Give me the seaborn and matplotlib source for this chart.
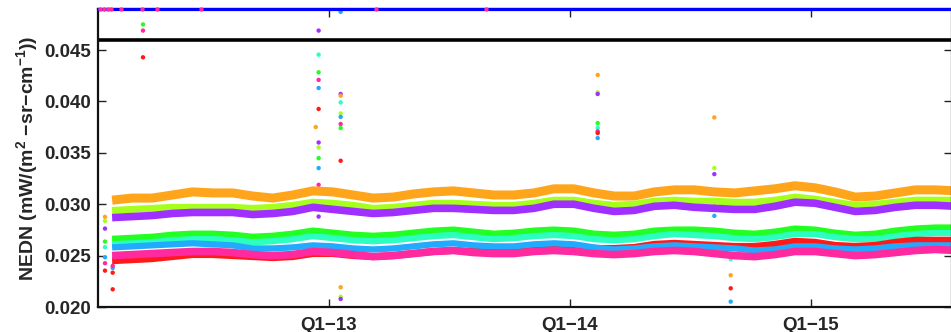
import numpy as np
import pandas as pd
import matplotlib
matplotlib.use("Agg")
import matplotlib.pyplot as plt
import seaborn as sns

# ---------------- data ----------------
# monthly sample dates (decimal year)
dates = [2012.1 + k / 12 for k in range(43)]

orange = [0.0304, 0.0306, 0.0306, 0.0309, 0.0312, 0.0311, 0.0311, 0.0308, 0.0306, 0.0309,
          0.0313, 0.0312, 0.0309, 0.0306, 0.0307, 0.0310, 0.0312, 0.0313, 0.0311, 0.0309,
          0.0309, 0.0311, 0.0315, 0.0315, 0.0311, 0.0308, 0.0308, 0.0312, 0.0314, 0.0314,
          0.0312, 0.0311, 0.0313, 0.0315, 0.0318, 0.0316, 0.0312, 0.0307, 0.0308, 0.0311,
          0.0314, 0.0314, 0.0313]
chartreuse = [0.0294, 0.0295, 0.0296, 0.0297, 0.0297, 0.0297, 0.0297, 0.0296, 0.0297, 0.0299,
              0.0302, 0.0301, 0.0299, 0.0296, 0.0297, 0.0299, 0.0301, 0.0301, 0.0300, 0.0299,
              0.0299, 0.0301, 0.0304, 0.0304, 0.0301, 0.0299, 0.0300, 0.0303, 0.0304, 0.0303,
              0.0303, 0.0302, 0.0302, 0.0304, 0.0307, 0.0305, 0.0302, 0.0299, 0.0300, 0.0302,
              0.0304, 0.0304, 0.0304]
purple = [0.0287, 0.0288, 0.0289, 0.0291, 0.0292, 0.0292, 0.0292, 0.0290, 0.0291, 0.0293,
          0.0297, 0.0295, 0.0293, 0.0291, 0.0292, 0.0294, 0.0296, 0.0296, 0.0295, 0.0294,
          0.0294, 0.0296, 0.0300, 0.0300, 0.0296, 0.0293, 0.0294, 0.0298, 0.0299, 0.0297,
          0.0296, 0.0295, 0.0295, 0.0298, 0.0302, 0.0301, 0.0297, 0.0293, 0.0294, 0.0297,
          0.0299, 0.0299, 0.0298]
green = [0.0266, 0.0267, 0.0268, 0.0270, 0.0271, 0.0271, 0.0270, 0.0268, 0.0269, 0.0271,
         0.0274, 0.0272, 0.0270, 0.0269, 0.0270, 0.0272, 0.0274, 0.0275, 0.0273, 0.0271,
         0.0272, 0.0274, 0.0275, 0.0274, 0.0271, 0.0270, 0.0271, 0.0274, 0.0275, 0.0275,
         0.0274, 0.0272, 0.0271, 0.0273, 0.0276, 0.0275, 0.0272, 0.0270, 0.0271, 0.0274,
         0.0276, 0.0277, 0.0277]
aqua = [0.0261, 0.0262, 0.0263, 0.0265, 0.0266, 0.0266, 0.0265, 0.0263, 0.0264, 0.0266,
        0.0269, 0.0267, 0.0265, 0.0264, 0.0265, 0.0267, 0.0269, 0.0270, 0.0268, 0.0266,
        0.0267, 0.0269, 0.0270, 0.0269, 0.0266, 0.0265, 0.0266, 0.0269, 0.0271, 0.0270,
        0.0269, 0.0267, 0.0266, 0.0268, 0.0271, 0.0271, 0.0268, 0.0266, 0.0266, 0.0269,
        0.0271, 0.0272, 0.0272]
blue = [0.0258, 0.0259, 0.0260, 0.0261, 0.0262, 0.0261, 0.0260, 0.0257, 0.0257, 0.0258,
        0.0260, 0.0259, 0.0257, 0.0256, 0.0257, 0.0259, 0.0261, 0.0262, 0.0260, 0.0259,
        0.0259, 0.0261, 0.0262, 0.0261, 0.0258, 0.0256, 0.0257, 0.0259, 0.0260, 0.0259,
        0.0258, 0.0257, 0.0255, 0.0256, 0.0259, 0.0259, 0.0257, 0.0256, 0.0257, 0.0259,
        0.0260, 0.0260, 0.0260]
magenta = [0.0250, 0.0251, 0.0252, 0.0253, 0.0254, 0.0254, 0.0253, 0.0251, 0.0250, 0.0251,
           0.0254, 0.0253, 0.0251, 0.0249, 0.0250, 0.0252, 0.0254, 0.0255, 0.0253, 0.0252,
           0.0252, 0.0254, 0.0255, 0.0254, 0.0252, 0.0251, 0.0252, 0.0254, 0.0255, 0.0254,
           0.0252, 0.0250, 0.0249, 0.0251, 0.0254, 0.0254, 0.0252, 0.0250, 0.0251, 0.0253,
           0.0255, 0.0256, 0.0255]
red = [0.0245, 0.0246, 0.0247, 0.0249, 0.0251, 0.0251, 0.0250, 0.0249, 0.0248, 0.0249,
       0.0252, 0.0252, 0.0250, 0.0249, 0.0250, 0.0252, 0.0254, 0.0255, 0.0254, 0.0254,
       0.0254, 0.0256, 0.0258, 0.0258, 0.0257, 0.0257, 0.0258, 0.0261, 0.0262, 0.0261,
       0.0260, 0.0259, 0.0259, 0.0261, 0.0264, 0.0263, 0.0260, 0.0259, 0.0260, 0.0263,
       0.0265, 0.0265, 0.0265]

series_names = ["orange", "chartreuse", "purple", "green", "aqua", "red", "blue", "magenta"]
series_values = [orange, chartreuse, purple, green, aqua, red, blue, magenta]
series_colors = ["#ffa51c", "#a6ff1c", "#a030ff", "#22ff22", "#2cffc0", "#ff1a1a", "#22aaff", "#ff2aa0"]
series_widths = [6.5, 5.0, 5.5, 5.0, 4.5, 5.0, 4.5, 5.5]

# isolated points (decimal year, value, series)
out_years = [2012.0705] * 8 + [2012.1025] * 4 + [2012.2282] * 3 \
    + [2012.945] + [2012.957] * 12 + [2013.0485] * 12 + [2014.115] * 8 \
    + [2014.599] * 5 + [2014.667] * 4
out_values = [0.02877, 0.02838, 0.02763, 0.02637, 0.02582, 0.02484, 0.02426, 0.02354,
              0.02172, 0.02334, 0.02380, 0.02400,
              0.04750, 0.04690, 0.04430,
              0.03751,
              0.04690, 0.04456, 0.04284, 0.04210, 0.04131, 0.03927, 0.03601, 0.03553,
              0.03449, 0.03352, 0.03189, 0.02880,
              0.04073, 0.04056, 0.03991, 0.03884, 0.03850, 0.03781, 0.03742, 0.03423,
              0.02192, 0.02100, 0.02078, 0.04872,
              0.04258, 0.04089, 0.04073, 0.03790, 0.03742, 0.03709, 0.03693, 0.03644,
              0.03845, 0.03352, 0.03293, 0.03017, 0.02887,
              0.02465, 0.02309, 0.02182, 0.02052]
out_series = ["orange", "chartreuse", "purple", "green", "aqua", "blue", "magenta", "red",
              "red", "red", "blue", "magenta",
              "green", "magenta", "red",
              "orange",
              "purple", "aqua", "green", "magenta", "blue", "red", "purple", "chartreuse",
              "green", "blue", "magenta", "purple",
              "purple", "orange", "aqua", "chartreuse", "blue", "magenta", "green", "red",
              "orange", "chartreuse", "purple", "blue",
              "orange", "chartreuse", "purple", "green", "aqua", "magenta", "red", "blue",
              "orange", "chartreuse", "purple", "red", "blue",
              "aqua", "orange", "red", "blue"]

# points clipped at the top edge
top_years = [2012.050, 2012.066, 2012.083, 2012.095, 2012.137, 2012.224, 2012.286, 2012.469,
             2013.195, 2013.651]

y_limit = (0.020, 0.049)
spec_level = 0.046
tick_years = [2013, 2014, 2015]
tick_labels = ["Q1\u221213", "Q1\u221214", "Q1\u221215"]
y_ticks = [0.020, 0.025, 0.030, 0.035, 0.040, 0.045]

# ---------------- style ----------------
sns.set_style("ticks")
plt.rcParams["font.family"] = ["Liberation Sans", "DejaVu Sans"]
plt.rcParams["font.weight"] = "bold"
plt.rcParams["mathtext.fontset"] = "custom"
plt.rcParams["mathtext.rm"] = "Liberation Sans:bold"
plt.rcParams["mathtext.bf"] = "Liberation Sans:bold"
plt.rcParams["mathtext.it"] = "Liberation Sans:bold"
plt.rcParams["axes.unicode_minus"] = True

palette = dict(zip(series_names, series_colors))

fig = plt.figure(figsize=(9.51, 3.32), dpi=100)
W, H = 951, 332
ax = fig.add_axes([98 / W, 25 / H, 1.001 - 98 / W, (307 - 9) / H])

x_left = 2013 + (98 - 329) / 241
x_right = 2013 + (952 - 329) / 241

for name, vals, lw in zip(series_names, series_values, series_widths):
    sns.lineplot(x=dates, y=vals, color=palette[name], linewidth=lw, ax=ax,
                 solid_capstyle="butt", solid_joinstyle="round")

out_df = pd.DataFrame({"year": out_years, "value": out_values, "series": out_series})
sns.scatterplot(data=out_df, x="year", y="value", hue="series", palette=palette,
                s=10, linewidth=0, legend=False, ax=ax)

ax.axhline(spec_level, color="black", linewidth=2.6)
ax.axhline(y_limit[1], color="#0000ff", linewidth=2.3, clip_on=False, zorder=5)
top_df = pd.DataFrame({"year": top_years, "value": [y_limit[1]] * len(top_years)})
sns.scatterplot(data=top_df, x="year", y="value", color="#ff2aa0", s=10, linewidth=0,
                legend=False, ax=ax, clip_on=False, zorder=6)

ax.set_xlim(x_left, x_right)
ax.set_ylim(*y_limit)
ax.set_xticks(tick_years)
ax.set_xticklabels(tick_labels)
ax.set_yticks(y_ticks)
ax.set_yticklabels([f"{v:.3f}" for v in y_ticks])
ax.tick_params(direction="in", length=5.5, width=1.0, top=True, right=True,
               labelsize=13.5, pad=5, color="#222222")
ax.tick_params(axis="x", pad=7)
for lab in ax.get_xticklabels() + ax.get_yticklabels():
    lab.set_fontweight("bold")

ax.set_xlabel("")
ax.set_ylabel("NEDN (mW/(m$^{\\mathbf{2}}$ \u2212sr\u2212cm$^{\\mathbf{-1}}$))",
              fontsize=14, fontweight="bold", labelpad=3)

for side in ["left", "bottom", "right", "top"]:
    ax.spines[side].set_linewidth(1.6)
    ax.spines[side].set_color("#111111")

fig.savefig("out.png", dpi=100)
